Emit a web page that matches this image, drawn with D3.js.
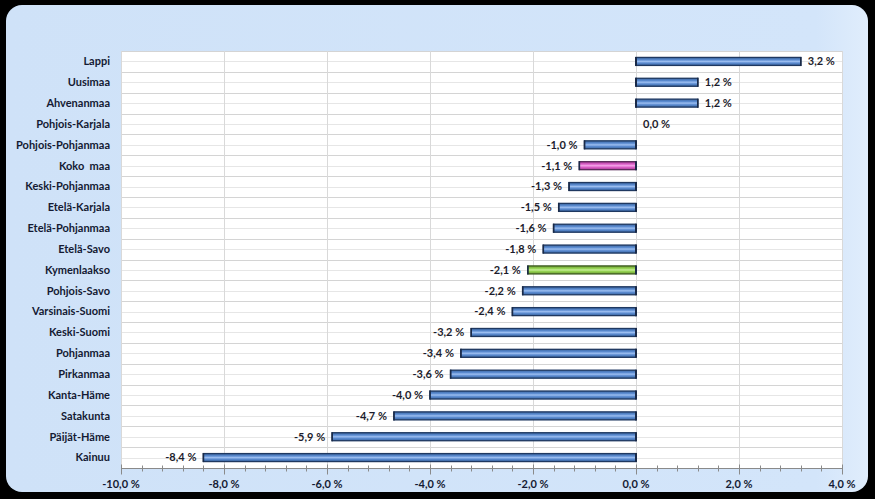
<!DOCTYPE html>
<html>
 <head>
  <meta charset="UTF-8">
  <title>Muutos maakunnittain</title>
  <style>
    body { margin: 0; background: #000; }
    text { font-family: Lato, "Open Sans", sans-serif; font-weight: bold; white-space: pre; }
  </style>
 </head>
 <body>
<div id="viz-wrapper"></div>
 <script src="https://d3js.org/d3.v7.min.js" charset="utf-8"></script>
 <script type="text/javascript">
    // data
    var regions = ["Lappi", "Uusimaa", "Ahvenanmaa", "Pohjois-Karjala", "Pohjois-Pohjanmaa",
                   "Koko  maa", "Keski-Pohjanmaa", "Etelä-Karjala", "Etelä-Pohjanmaa", "Etelä-Savo",
                   "Kymenlaakso", "Pohjois-Savo", "Varsinais-Suomi", "Keski-Suomi", "Pohjanmaa",
                   "Pirkanmaa", "Kanta-Häme", "Satakunta", "Päijät-Häme", "Kainuu"];
    var changes = [3.2, 1.2, 1.2, 0.0, -1.0,
                   -1.1, -1.3, -1.5, -1.6, -1.8,
                   -2.1, -2.2, -2.4, -3.2, -3.4,
                   -3.6, -4.0, -4.7, -5.9, -8.4];
    var tickValues = [-10, -8, -6, -4, -2, 0, 2, 4];

    var width = 875, height = 499;
    // plot area edges (named so they don't clash with window.top)
    var plotLeft = 121, plotRight = 842, plotTop = 51, plotBottom = 468;

    var svg = d3.select("#viz-wrapper")
                .append("svg")
                .attr("width", width)
                .attr("height", height)
                .style("display", "block");

    var defs = svg.append("defs");

    // bar gradients: dark edge, light middle stripe
    function barGradient(id, dark, mid, light) {
        var g = defs.append("linearGradient").attr("id", id)
            .attr("x1", 0).attr("y1", 0).attr("x2", 0).attr("y2", 1);
        g.append("stop").attr("offset", "0%").attr("stop-color", dark);
        g.append("stop").attr("offset", "30%").attr("stop-color", mid);
        g.append("stop").attr("offset", "50%").attr("stop-color", light);
        g.append("stop").attr("offset", "70%").attr("stop-color", mid);
        g.append("stop").attr("offset", "100%").attr("stop-color", dark);
    }
    barGradient("gBlue", "#3a65a0", "#5b8bd0", "#9cbef0");
    barGradient("gPink", "#a03c90", "#dc5ec8", "#f3a6e8");
    barGradient("gGreen", "#6c9a30", "#92d050", "#c6ee96");

    var bg = defs.append("linearGradient").attr("id", "gBg")
        .attr("x1", 0).attr("y1", 0).attr("x2", 1).attr("y2", 0);
    bg.append("stop").attr("offset", "0%").attr("stop-color", "#cfe2f8");
    bg.append("stop").attr("offset", "94%").attr("stop-color", "#d3e5fa");
    bg.append("stop").attr("offset", "100%").attr("stop-color", "#e0edfc");

    // outer rounded panel
    svg.append("rect")
       .attr("x", 6).attr("y", 5)
       .attr("width", 862).attr("height", 487)
       .attr("rx", 16).attr("ry", 16)
       .attr("fill", "url(#gBg)");

    // plot area
    svg.append("rect")
       .attr("x", plotLeft).attr("y", plotTop)
       .attr("width", plotRight - plotLeft).attr("height", plotBottom - plotTop)
       .attr("fill", "#ffffff");

    var x = d3.scaleLinear().domain([-10, 4]).range([plotLeft, plotRight]);
    var y = d3.scaleBand().domain(regions).range([plotTop, plotBottom]);
    var bh = 8;

    // horizontal grid lines (boundaries and half steps)
    var hLines = [];
    regions.forEach(function(r) {
        hLines.push({ y: y(r), major: true });
        hLines.push({ y: y(r) + y.bandwidth() / 2, major: false });
    });
    svg.append("g").selectAll("line")
       .data(hLines).enter().append("line")
       .attr("x1", plotLeft).attr("x2", plotRight)
       .attr("y1", function(d) { return Math.round(d.y) + 0.5; })
       .attr("y2", function(d) { return Math.round(d.y) + 0.5; })
       .attr("stroke", function(d) { return d.major ? "#d4d4d4" : "#e6e6e6"; })
       .attr("stroke-width", 1);

    // vertical grid lines
    svg.append("g").selectAll("line")
       .data(tickValues).enter().append("line")
       .attr("x1", function(d) { return Math.round(x(d)) + 0.5; })
       .attr("x2", function(d) { return Math.round(x(d)) + 0.5; })
       .attr("y1", plotTop).attr("y2", plotBottom)
       .attr("stroke", "#d9d9d9");

    // bars
    function fillFor(i) {
        if (regions[i] === "Koko  maa") return "url(#gPink)";
        if (regions[i] === "Kymenlaakso") return "url(#gGreen)";
        return "url(#gBlue)";
    }
    function strokeFor(i) {
        if (regions[i] === "Koko  maa") return "#5a2a5a";
        if (regions[i] === "Kymenlaakso") return "#3d5a20";
        return "#1f3860";
    }

    var bars = svg.append("g");
    changes.forEach(function(d, i) {
        if (d === 0) return;
        var by = y(regions[i]) + (y.bandwidth() - bh) / 2;
        bars.append("rect")
            .attr("x", x(Math.min(0, d)))
            .attr("y", by)
            .attr("width", Math.abs(x(d) - x(0)))
            .attr("height", bh)
            .attr("fill", fillFor(i))
            .attr("stroke", strokeFor(i))
            .attr("stroke-width", 1.3);
        // dark end caps
        bars.append("line")
            .attr("x1", x(0)).attr("x2", x(0))
            .attr("y1", by - 0.5).attr("y2", by + bh + 0.5)
            .attr("stroke", "#1a2a48").attr("stroke-width", 2);
        bars.append("line")
            .attr("x1", x(d)).attr("x2", x(d))
            .attr("y1", by - 0.5).attr("y2", by + bh + 0.5)
            .attr("stroke", "#1a2a48").attr("stroke-width", 1.6);
    });

    var fmt = function(v) { return d3.format(".1f")(v).replace(".", ",").replace("−", "-") + " %"; };

    // value labels
    svg.append("g").selectAll("text")
       .data(changes).enter().append("text")
       .attr("x", function(d) { return d < 0 ? x(d) - 7 : x(d) + 7; })
       .attr("y", function(d, i) { return y(regions[i]) + y.bandwidth() / 2; })
       .attr("dy", "0.35em")
       .attr("text-anchor", function(d) { return d < 0 ? "end" : "start"; })
       .attr("font-size", 11)
       .attr("fill", "#1c1c2c")
       .text(function(d) { return fmt(d); });

    // category labels
    svg.append("g").selectAll("text")
       .data(regions).enter().append("text")
       .attr("x", 110)
       .attr("y", function(d) { return y(d) + y.bandwidth() / 2; })
       .attr("dy", "0.35em")
       .attr("text-anchor", "end")
       .attr("font-size", 11)
       .attr("fill", "#141a33")
       .text(function(d) { return d; });

    // x axis with minor ticks
    var axis = svg.append("g").attr("transform", "translate(0," + (plotBottom + 0.5) + ")");
    axis.append("line").attr("x1", plotLeft).attr("x2", plotRight).attr("stroke", "#8a8a8a");
    var minor = d3.range(-10, 4.001, 0.4);
    axis.selectAll("line.minor")
        .data(minor).enter().append("line")
        .attr("class", "minor")
        .attr("x1", function(d) { return Math.round(x(d)) + 0.5; })
        .attr("x2", function(d) { return Math.round(x(d)) + 0.5; })
        .attr("y1", -3).attr("y2", 3)
        .attr("stroke", "#8a8a8a");
    axis.selectAll("line.major")
        .data(tickValues).enter().append("line")
        .attr("class", "major")
        .attr("x1", function(d) { return Math.round(x(d)) + 0.5; })
        .attr("x2", function(d) { return Math.round(x(d)) + 0.5; })
        .attr("y1", -4).attr("y2", 6)
        .attr("stroke", "#8a8a8a");
    axis.selectAll("text")
        .data(tickValues).enter().append("text")
        .attr("x", function(d) { return x(d); })
        .attr("y", 16)
        .attr("dy", "0.35em")
        .attr("text-anchor", "middle")
        .attr("font-size", 11)
        .attr("fill", "#141a33")
        .text(function(d) { return fmt(d); });
 </script>
 </body>
</html>
